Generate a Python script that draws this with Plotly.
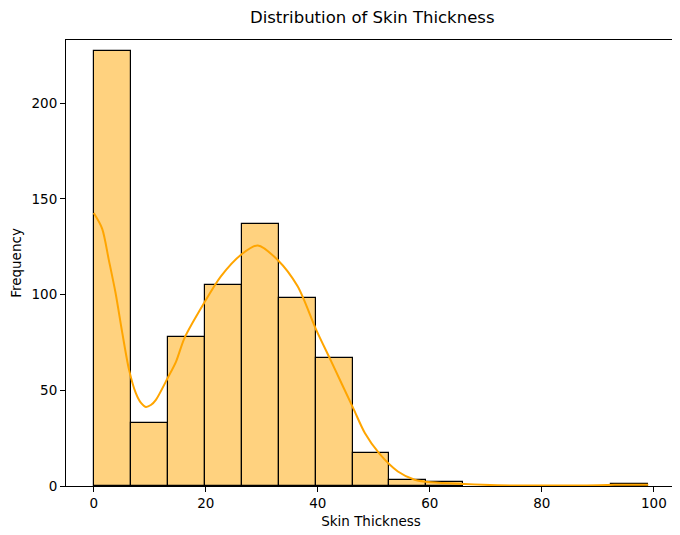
import numpy as np
import plotly.graph_objects as go

# histogram of skin thickness: 15 bins between 0 and 99
bin_edges = np.linspace(0, 99, 16)
counts = [227, 33, 78, 105, 137, 98, 67, 17, 3, 2, 0, 0, 0, 0, 1]

# kde curve (x, frequency scale)
kde_x = [0, 1.5, 2.7, 3.9, 5.1, 6.3, 7.5, 8.4, 9.3, 10.2, 11.1, 13.2, 14.7, 16.2, 19.7, 22.7,
         26.3, 29.3, 32.8, 36.4, 39.7, 42.4, 46.3, 48.4, 51.0, 54.3, 57.3, 60.3,
         66.2, 72, 80, 88, 93, 96, 99]
kde_y = [142.6, 134.5, 118, 100.8, 80, 60.8, 48.6, 43.5, 41.3, 42.3, 45, 56.4, 65, 77.3, 95.6, 109.5,
         120.8, 125.7, 118.2, 104.3, 81.7, 65.1, 40.8, 27.7, 16.9, 7.6, 3.3, 1.9,
         1.0, 0.4, 0.2, 0.3, 0.6, 0.7, 0.7]

widths = np.diff(bin_edges)
edge_w = [1.2 if c > 0 else 0 for c in counts]

fig = go.Figure()
fig.add_trace(go.Bar(
    x=bin_edges[:-1],
    y=counts,
    width=widths,
    offset=0,
    marker=dict(color="rgba(255,165,0,0.5)", line=dict(color="black", width=edge_w)),
    showlegend=False,
    hoverinfo="skip",
))
fig.add_trace(go.Scatter(
    x=kde_x,
    y=kde_y,
    mode="lines",
    line=dict(color="#FFA500", width=2, shape="spline", smoothing=0.8),
    showlegend=False,
))

axis_style = dict(
    showline=True, linecolor="black", linewidth=1, mirror=True,
    ticks="outside", ticklen=5, tickcolor="black", tickwidth=1,
    showgrid=False, zeroline=False, automargin=False,
    tickfont=dict(family="DejaVu Sans", size=13.5, color="black"),
)

# page body adds an 8px margin, so the figure is 8px smaller than the window
fig.update_layout(
    width=672, height=527,
    margin=dict(l=58, r=4, t=32, b=49),
    plot_bgcolor="white", paper_bgcolor="white",
    bargap=0,
    title=dict(text="Distribution of Skin Thickness", x=0.542, xanchor="center",
               y=0.982, yanchor="middle",
               font=dict(family="DejaVu Sans", size=16.5, color="black")),
    xaxis=dict(axis_style, range=[-4.95, 103.95], tickvals=[0, 20, 40, 60, 80, 100],
               title=dict(text="Skin Thickness", standoff=6,
                          font=dict(family="DejaVu Sans", size=13.5, color="black"))),
    yaxis=dict(axis_style, range=[0, 233], tickvals=[0, 50, 100, 150, 200],
               title=dict(text="Frequency", standoff=8,
                          font=dict(family="DejaVu Sans", size=13.5, color="black"))),
)

fig.write_html("out.html")
